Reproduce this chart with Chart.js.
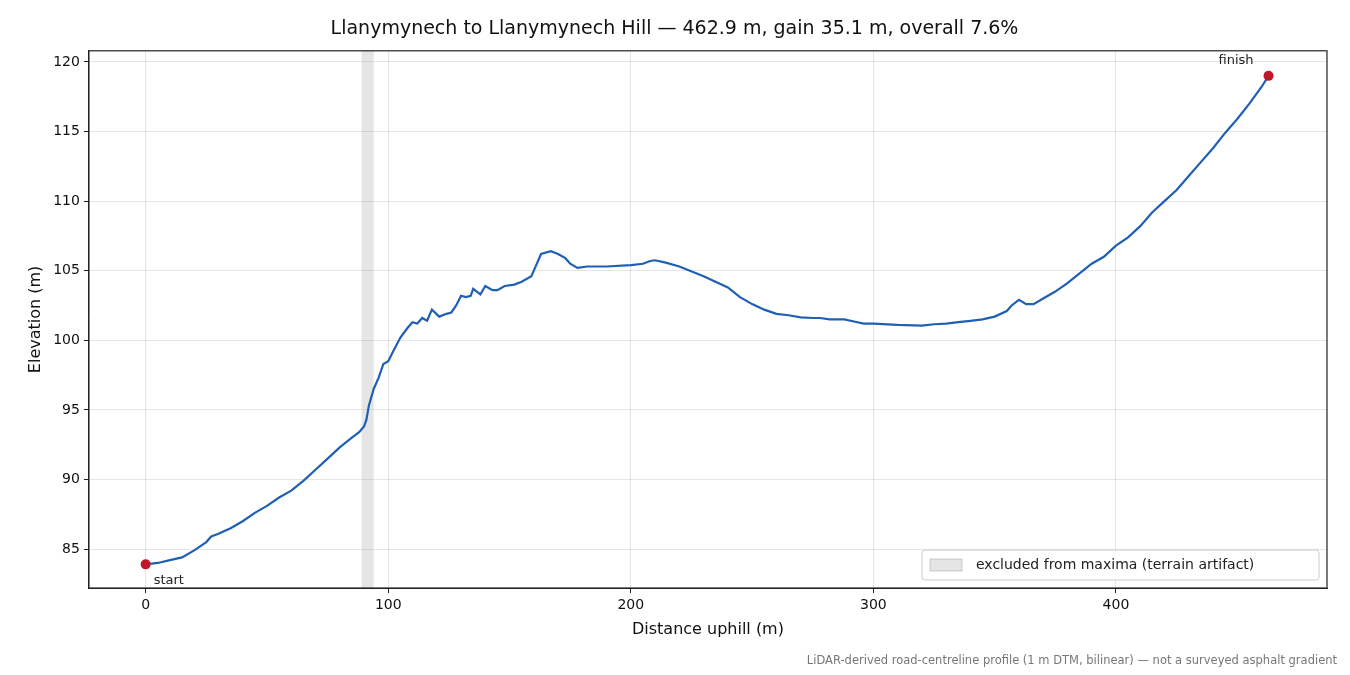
<!DOCTYPE html>
<html><head><meta charset="utf-8">
<script src="https://cdn.jsdelivr.net/npm/chart.js@4/dist/chart.umd.min.js"></script>
<style>html,body{margin:0;background:#fff}#w{width:1350px;height:675px;position:relative}</style>
</head><body><div id="w"><canvas id="c" width="1350" height="675"></canvas></div>
<script>
const distance=[0,5,10,15,20,25,27,30,35,40,45,50,55,60,65,70,75,80,85,88,90,91,92,94,96,98,100,102,105,108,110,112,114,116,118,121,124,126,128,130,132,134,135,138,140,143,145,148,152,155,159,161,163,167,170,173,175,178,182,190,200,205,208,210,214,220,230,240,245,250,255,260,265,270,275,278,282,288,292,296,300,310,320,325,330,335,340,345,350,355,357,360,363,366,370,375,380,385,390,395,400,405,410,415,420,425,430,435,440,445,450,455,460,462.9];
const elevation=[83.9,84.0,84.2,84.4,84.9,85.5,85.9,86.1,86.5,87.0,87.6,88.1,88.7,89.2,89.9,90.7,91.5,92.3,93.0,93.4,93.8,94.3,95.3,96.5,97.3,98.3,98.5,99.2,100.2,100.9,101.3,101.2,101.6,101.4,102.2,101.7,101.9,102.0,102.5,103.2,103.1,103.2,103.7,103.3,103.9,103.6,103.6,103.9,104.0,104.2,104.6,105.4,106.2,106.4,106.2,105.9,105.5,105.2,105.3,105.3,105.4,105.5,105.7,105.75,105.6,105.3,104.6,103.8,103.1,102.6,102.2,101.9,101.8,101.65,101.6,101.6,101.5,101.5,101.35,101.2,101.2,101.1,101.05,101.15,101.2,101.3,101.4,101.5,101.7,102.1,102.5,102.9,102.6,102.6,103.0,103.5,104.1,104.8,105.5,106.0,106.8,107.4,108.2,109.2,110.0,110.8,111.8,112.8,113.8,114.9,115.9,117.0,118.2,119.0];
const excluded=[89,94];
const xTicks=[0,100,200,300,400];
const yTicks=[85,90,95,100,105,110,115,120];
const F='"DejaVu Sans", sans-serif';
const pts=distance.map((d,i)=>({x:d,y:elevation[i]}));
const band={id:'band',beforeDatasetsDraw(ch){const{ctx,chartArea:a,scales:{x}}=ch;ctx.save();ctx.fillStyle='rgba(160,160,160,0.28)';const l=x.getPixelForValue(excluded[0]),r=x.getPixelForValue(excluded[1]);ctx.fillRect(l,a.top,r-l,a.bottom-a.top);ctx.restore();},
afterDraw(ch){const{ctx,scales:{x,y}}=ch;ctx.save();ctx.fillStyle='#222';ctx.font='13px '+F;ctx.textAlign='left';ctx.textBaseline='top';
ctx.fillText('start',x.getPixelForValue(0)+8,y.getPixelForValue(elevation[0])+10);
ctx.textAlign='right';ctx.textBaseline='bottom';ctx.fillText('finish',x.getPixelForValue(distance[distance.length-1])-15,y.getPixelForValue(elevation[elevation.length-1])-9);
ctx.fillStyle='#777';ctx.font='11.5px '+F;ctx.textAlign='right';ctx.textBaseline='alphabetic';ctx.fillText('LiDAR-derived road-centreline profile (1 m DTM, bilinear) — not a surveyed asphalt gradient',1337,664);
const a=ch.chartArea;ctx.strokeStyle='#222';ctx.lineWidth=1.2;ctx.strokeRect(a.left,a.top,a.right-a.left,a.bottom-a.top);ctx.restore();}};
new Chart(document.getElementById('c'),{type:'scatter',
data:{datasets:[
{label:'profile',data:pts,showLine:true,borderColor:'#1f5fb4',borderWidth:2.2,pointRadius:0,order:2},
{label:'ends',data:[pts[0],pts[pts.length-1]],pointRadius:5,pointBackgroundColor:'#c0182a',pointBorderWidth:0,showLine:false,order:1},
{label:'excluded from maxima (terrain artifact)',data:[],backgroundColor:'rgba(160,160,160,0.28)',borderColor:'rgba(140,140,140,0.4)',borderWidth:1}
]},
options:{responsive:false,animation:false,devicePixelRatio:1,
layout:{padding:{left:22,right:23,top:8,bottom:36}},
plugins:{title:{display:true,text:'Llanymynech to Llanymynech Hill — 462.9 m, gain 35.1 m, overall 7.6%',font:{family:F,size:19,weight:'normal'},color:'#111',padding:{top:10,bottom:10}},
legend:{display:false},tooltip:{enabled:false}},
scales:{
x:{type:'linear',min:-23.4,max:487,afterBuildTicks:s=>{s.ticks=xTicks.map(v=>({value:v}))},
ticks:{font:{family:F,size:14},color:'#111',padding:4},grid:{color:'rgba(0,0,0,0.1)',tickLength:5,tickColor:'#222'},border:{color:'#222'},
title:{display:true,text:'Distance uphill (m)',font:{family:F,size:16},color:'#111',padding:{top:2,bottom:0}}},
y:{min:82.2,max:120.8,afterBuildTicks:s=>{s.ticks=yTicks.map(v=>({value:v}))},
ticks:{font:{family:F,size:14},color:'#111',padding:4},grid:{color:'rgba(0,0,0,0.1)',tickLength:5,tickColor:'#222'},border:{color:'#222'},
title:{display:true,text:'Elevation (m)',font:{family:F,size:16},color:'#111'}}}},
plugins:[band,{id:'leg',afterDraw(ch){const{ctx,chartArea:a}=ch;ctx.save();const w=397,h=30,x0=a.right-w-8,y0=a.bottom-h-8;
ctx.fillStyle='rgba(255,255,255,0.85)';ctx.strokeStyle='#ccc';ctx.lineWidth=1;ctx.beginPath();ctx.roundRect(x0,y0,w,h,3);ctx.fill();ctx.stroke();
ctx.fillStyle='rgba(160,160,160,0.28)';ctx.strokeStyle='rgba(140,140,140,0.4)';ctx.fillRect(x0+8,y0+9,32,12);ctx.strokeRect(x0+8,y0+9,32,12);
ctx.fillStyle='#222';ctx.font='14px '+F;ctx.textBaseline='middle';ctx.fillText(ch.data.datasets[2].label,x0+54,y0+h/2);ctx.restore();}}]
});
</script></body></html>
